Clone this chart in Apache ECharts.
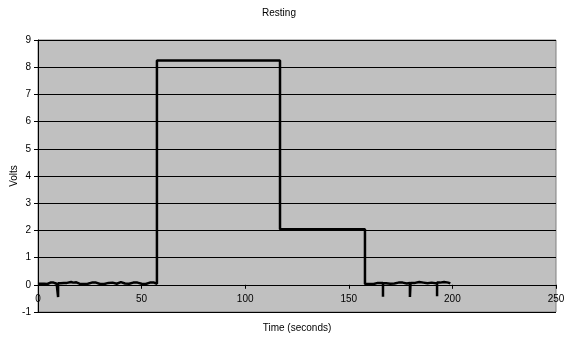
<!DOCTYPE html>
<html><head><meta charset="utf-8">
<script src="https://cdn.jsdelivr.net/npm/echarts@6/dist/echarts.min.js"></script>
<style>html,body{margin:0;padding:0;background:#fff}#c{width:571px;height:337px}</style>
</head><body><div id="c"></div>
<script>
const titleText = "Resting";
const xName = "Time (seconds)";
const yName = "Volts";
// segment: rest before stimulus
const t1 = [0,1.5,3,4.5,6,7.5,9,9.7,9.7,9.7,11,12.5,14,16,17,18.5,20,22,24,26,28,30,32,34,36,38,40,42,44,46,48,50,52,54,56,57.4];
const v1 = [0.04,0.04,0.03,0.08,0.08,0.04,0.03,0.03,-0.45,0.06,0.07,0.07,0.1,0.08,0.09,0.04,0.03,0.04,0.08,0.08,0.03,0.03,0.07,0.08,0.04,0.1,0.05,0.04,0.08,0.08,0.04,0.03,0.08,0.08,0.04,0.04];
// high plateau
const t2 = [57.4,70,85,93.1,93.1,93.2,105,110.9,110.9,111,116.8];
const v2 = [8.25,8.25,8.25,8.25,8.32,8.25,8.25,8.25,8.32,8.25,8.25];
// middle plateau
const t3 = [116.8,118,118.4,119.2,119.6,121,121.4,122.3,122.7,123.5,123.9,125,125.4,126.2,126.6,127.5,127.9,129,129.4,130.1,130.5,131.5,131.9,133,133.4,134.2,134.6,135.5,135.9,137,137.4,138.3,138.7,139.6,140,141,141.4,142.5,142.9,143.8,144.2,145.3,145.7,146.8,147.2,148,148.4,149.5,149.9,151,151.4,152.3,152.7,153.6,154,155,155.4,157.8];
const v3 = [2.04,2.09,2.04,2.09,2.04,2.09,2.04,2.09,2.04,2.09,2.04,2.09,2.04,2.09,2.04,2.09,2.04,2.09,2.04,2.09,2.04,2.09,2.04,2.09,2.04,2.09,2.04,2.09,2.04,2.09,2.04,2.09,2.04,2.09,2.04,2.09,2.04,2.09,2.04,2.09,2.04,2.09,2.04,2.09,2.04,2.09,2.04,2.09,2.04,2.09,2.04,2.09,2.04,2.09,2.04,2.09,2.04,2.0];
// after
const t4 = [157.8,160,162,164,166.5,166.5,166.5,168,170,172,174,176,178,179.5,179.5,179.8,179.8,182,184,186,188,190,192.6,192.6,192.6,194,196,198,199];
const v4 = [0.03,0.03,0.07,0.07,0.06,-0.44,0.06,0.04,0.05,0.08,0.08,0.05,0.07,0.07,-0.45,-0.45,0.07,0.1,0.08,0.06,0.08,0.05,0.06,-0.42,0.08,0.1,0.08,0.05,0.05];

const times = [].concat(t1, t2, t3, t4);
const volts = [].concat(v1, v2, v3, v4);
const data = times.map((t, i) => [t, volts[i]]);

const font = "'Liberation Sans', Arial, sans-serif";
const chart = echarts.init(document.getElementById('c'), null, {renderer: 'canvas'});
chart.setOption({
  animation: false,
  backgroundColor: '#ffffff',
  title: {text: titleText, left: 274, top: 3, textAlign: 'center',
    textStyle: {fontFamily: font, fontSize: 10, fontWeight: 'normal', color: '#000'}},
  grid: {left: 38, right: 15, top: 40, bottom: 25, show: true, containLabel: false,
    outerBoundsMode: 'none',
    backgroundColor: '#c0c0c0', borderColor: '#808080', borderWidth: 1},
  xAxis: {type: 'value', min: 0, max: 250, interval: 50,
    name: xName, nameLocation: 'middle', nameGap: 11, nameMoveOverlap: false,
    nameTextStyle: {fontFamily: font, fontSize: 10, color: '#000'},
    axisLine: {onZero: true, lineStyle: {color: '#000', width: 1}},
    axisTick: {show: true, inside: false, length: 4, lineStyle: {color: '#000'}},
    axisLabel: {fontFamily: font, fontSize: 10, color: '#000', margin: -18},
    splitLine: {show: false}},
  yAxis: {type: 'value', min: -1, max: 9, interval: 1,
    name: yName, nameLocation: 'middle', nameGap: 19, nameMoveOverlap: false,
    nameTextStyle: {fontFamily: font, fontSize: 10, color: '#000'},
    axisLine: {show: true, onZero: false, lineStyle: {color: '#000', width: 1}},
    axisTick: {show: true, inside: false, length: 4, lineStyle: {color: '#000'}},
    axisLabel: {fontFamily: font, fontSize: 10, color: '#000', margin: 7},
    splitLine: {show: true, lineStyle: {color: '#000', width: 1}}},
  series: [{type: 'line', data: data, showSymbol: false, symbol: 'none', step: 'end',
    lineStyle: {color: '#000', width: 2.5}, clip: true}]
});
</script></body></html>
